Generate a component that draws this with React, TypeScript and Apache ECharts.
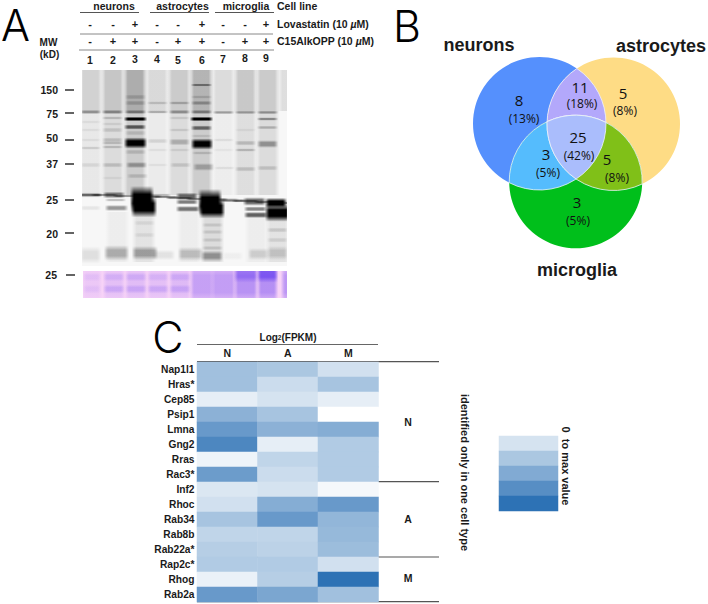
import React, { useEffect, useRef } from "react";
import * as echarts from "echarts";

// ---- heat map data ----
const genes = ["Nap1l1","Hras*","Cep85","Psip1","Lmna","Gng2","Rras","Rac3*","Inf2","Rhoc","Rab34","Rab8b","Rab22a*","Rap2c*","Rhog","Rab2a"];
const cellCols = ["N","A","M"];
const valuesN = [.45,.45,.12,.55,.72,.85,.08,.70,.17,.22,.42,.30,.35,.37,.10,.72];
const valuesA = [.40,.25,.20,.42,.55,.12,.30,.25,.20,.58,.72,.30,.32,.37,.35,.63];
const valuesM = [.22,.42,.12,.00,.58,.37,.37,.37,.05,.72,.52,.50,.47,.22,1.0,.45];
const scaleSteps = [.2,.4,.6,.8,1];

// ---- Venn data ----
const vennCounts = ["8","5","3","11","3","5","25"];
const vennPercents = ["(13%)","(8%)","(5%)","(18%)","(5%)","(8%)","(42%)"];

// ---- gel data ----
const laneNumbers = ["1","2","3","4","5","6","7","8","9"];
const lovastatin = ["-","-","+","-","-","+","-","-","+"];
const c15 = ["-","+","+","-","+","+","-","+","+"];
const mwLabels = ["150","75","50","37","25","20"];
// [lane, yStart, yEnd, alpha]
const smears = [
  [1,70,113,.15],[2,70,113,.2],[3,70,113,.3],
  [4,70,113,.12],[5,70,113,.18],[6,70,113,.27],
  [7,70,113,.11],[8,70,113,.19],[9,70,113,.18],[10,70,111,.1],
  [1,113,195,.06],[2,113,195,.11],[3,113,195,.17],
  [4,113,195,.05],[5,113,195,.11],[6,113,195,.17],
  [7,113,195,.04],[8,113,195,.1],[9,113,195,.11],
  [3.4,212,262,.08],[6.5,212,262,.11],[9.45,212,262,.08],[2.2,212,262,.04],[5.45,212,262,.04],[8.5,212,262,.04],
];
// [lane, y, thickness, width, darkness]
const bands = [
  [1,112,2.5,1,.45],[1,122,2,1,.08],[1,130,2,1,.08],[1,140,2,1,.08],[1,148,2,1,.18],[1,165,3,1,.12],[1,195,3,1.1,.45],[1,208,3,1,.1],[1,255,10,1,.14],
  [2,112,2.5,1,.5],[2,118,2,1,.25],[2,124,2,1,.12],[2,130,3,1,.18],[2,140,3,1,.22],[2,143,2,1,.25],[2,147,2,1,.25],[2,165,3,1,.22],[2,178,2,1,.08],[2.05,195,4,1.05,.7],[2.1,200,2,1,.3],[2.15,208,3.5,1.1,.55],[2.15,253,9,1.2,.4],
  [3,97,3,1,.22],[3,103,3,1,.25],[3,112,2.5,1,.5],[3,119,2.6,1.1,1],[3,127,3,1.05,.85],[3,133,3,1,.18],[3.02,143,6.5,1.1,1],[3,152,3,1,.2],[3.05,165,3.5,1,.45],[3.1,176,3,1,.2],[3.32,199,15,1.15,1],[3.42,207,12,1.25,1],[3.45,223,3,1,.1],[3.45,235,3,1,.1],[3.45,253,8,1.25,.45],
  [4,103,2,1,.22],[4,112,2,1,.3],[4,141,3,1,.15],[4,150,2,1,.08],[4,165,2,1,.08],[4.1,195.5,2.5,1.1,.35],[4.3,255,6,1.1,.12],
  [5,103,2,1,.32],[5,112,2.5,1,.45],[5,118,2,1,.15],[5,130,2,1,.15],[5,142,4,1,.32],[5,150,2,1,.12],[5.05,165,3,1,.18],[5.35,196.5,4.5,1.05,.85],[5.35,202,3,1.05,.7],[5.4,209,3.5,1.15,.75],[5.5,254,8,1.2,.3],
  [6,85,1.8,1,.6],[6,97,2,1,.2],[6,103,2.5,1,.4],[6,112,2.5,1,.5],[6,119,2.6,1.1,1],[6,128,3,1,.75],[6,136,2,1,.15],[6.02,144,6.5,1.05,1],[6.05,153,2,1,.2],[6.1,167,4.5,1,.35],[6.4,202,15,1.15,1],[6.47,209,11,1.25,1],[6.5,225,2.5,1,.16],[6.5,232,2.5,1,.16],[6.5,240,2.5,1,.16],[6.5,248,2.5,1,.18],[6.5,256,6,1.05,.5],
  [7,112.5,2,1,.42],[7,140,2,1,.1],[7,150,2,1,.06],[7.05,168,2,1,.1],[7.2,200,2.5,1.1,.3],[7.4,256,5,1,.05],
  [8,112.5,2,1,.38],[8,130,2,1,.08],[8,143,3,1,.25],[8,150,2,1,.28],[8,169,3,1,.22],[8.4,201.5,5,1.1,.85],[8.45,209,3,1.1,.65],[8.48,215,3.5,1.15,.85],[8.6,254,7,1,.2],
  [9,112.5,2,1,.45],[9,119,2,1,.55],[9,127.5,2,1,.32],[9,144,4.5,1,.5],[9,168,3,1,.2],[9.4,203,6,1.05,1],[9.45,213,10,1.2,1],[9.45,230,3,1,.18],[9.45,240,3,1,.14],[9.45,253,8,1,.22],
];
const slantLine = [[.9,195],[1.6,195],[2.6,196],[3.6,196.5],[4.4,197],[5,198],[5.9,199],[6.6,199.5],[7.4,200.5],[8,201],[9,202],[9.7,203]];
// [lane, y, thickness, width, darkness]
const ponceau = [
  [1,284,26,.9,.08],[2,284,26,1,.14],[3,284,26,1,.16],[4,284,26,1,.14],[5,284,26,1,.18],
  [1,277,5,.8,.08],[1,289,5,.8,.08],[2,277,5,1,.14],[2,289,5,1,.2],[3,277,5,1,.16],[3,289,5,1,.2],
  [4,277,5,1,.12],[4,289,5,1,.2],[5,277,5,1,.16],[5,289,5,1,.2],[6,284,27,1.1,.36],[7,284,27,1.15,.38],
  [8,284,27,1.1,.46],[8,274,10,1.1,.5],[9,284,27,.95,.48],[9,274,10,.95,.8],[10,284,27,.8,.42],
];

const FONT = "'Liberation Sans', Arial, sans-serif";
const VFONT = "'Open Sans', 'Noto Sans', sans-serif";
const PANEL = "Inter, Lato, sans-serif";

// Venn geometry
const R = 66.5;
const cN: [number, number] = [539.5, 123.5];
const cA: [number, number] = [613.5, 124];
const cM: [number, number] = [575.7, 181.7];
function meet(p: number[], q: number[]) {
  const dx = q[0] - p[0], dy = q[1] - p[1], d = Math.hypot(dx, dy);
  const h = Math.sqrt(R * R - d * d / 4);
  const mx = (p[0] + q[0]) / 2, my = (p[1] + q[1]) / 2;
  return [[mx - dy / d * h, my + dx / d * h], [mx + dy / d * h, my - dx / d * h]];
}
const inside = (p: number[], c: number[]) => Math.hypot(p[0] - c[0], p[1] - c[1]) < R;
const arc = (p: number[]) => `A ${R} ${R} 0 0 1 ${p[0].toFixed(2)} ${p[1].toFixed(2)}`;
const lens = (p: number[], q: number[]) => {
  const [a, b] = meet(p, q);
  return `M ${a[0].toFixed(2)} ${a[1].toFixed(2)} ${arc(b)} ${arc(a)} Z`;
};
const pick = (p: number[], q: number[], r: number[]) => meet(p, q).find((v) => inside(v, r)) as number[];
const tAM = pick(cA, cM, cN), tNM = pick(cN, cM, cA), tNA = pick(cN, cA, cM);
const tripleD = `M ${tAM[0].toFixed(2)} ${tAM[1].toFixed(2)} ${arc(tNM)} ${arc(tNA)} ${arc(tAM)} Z`;
echarts.graphic.registerShape("lensNA", echarts.graphic.extendPath(lens(cN, cA), {}));
echarts.graphic.registerShape("lensNM", echarts.graphic.extendPath(lens(cN, cM), {}));
echarts.graphic.registerShape("lensAM", echarts.graphic.extendPath(lens(cA, cM), {}));
echarts.graphic.registerShape("triple", echarts.graphic.extendPath(tripleD, {}));

const txt = (text: string, x: number, y: number, size: number, extra: any = {}, style: any = {}) => ({
  type: "text", x, y, silent: true, ...extra,
  style: { text, fill: "#1a1a1a", font: `bold ${size}px ${FONT}`, textAlign: "center", textVerticalAlign: "middle", ...style },
});
const ln = (x1: number, x2: number, y: number, stroke = "#555", lineWidth = 1) => ({
  type: "line", silent: true, shape: { x1, y1: y, x2, y2: y }, style: { stroke, lineWidth },
});

const gelLabelX = [90, 113, 135, 157, 178, 202, 223, 245, 266];
const gelRowY = [59.5, 60, 59, 59, 60, 60, 59, 58, 58];
const mwY = [90, 114, 138, 164, 200, 234];
const mwTickY = [90, 113, 140, 164, 200, 233];

// horizontal fall-off of a band at each edge of its lane, one pixel per step
const taper = [.2, .45, .7, .9];

const softBand = (alpha: number, rgb: string) =>
  new echarts.graphic.LinearGradient(0, 0, 0, 1, [
    { offset: 0, color: `rgba(${rgb},0)` },
    { offset: 0.32, color: `rgba(${rgb},${alpha})` },
    { offset: 0.68, color: `rgba(${rgb},${alpha})` },
    { offset: 1, color: `rgba(${rgb},0)` },
  ]);

const bandRender = (rgb: string, k = 0.95, strength = 0.7) => (_: any, api: any) => {
  const x = api.value(0), y = api.value(1), h = api.value(2), w = api.value(3);
  const raw = api.value(4);
  const a = raw >= 0.95 ? raw : raw * strength;
  const c = api.coord([x, y]);
  const unitX = api.size([1, 0])[0];
  const unitY = api.size([0, 1])[1];
  const bw = Math.round(unitX * k * w), bh = unitY * h * 1.75;
  const left = Math.round(c[0] - bw / 2), top = c[1] - bh / 2;
  const n = taper.length;
  const part = (px: number, width: number, t: number) => ({
    type: "rect", shape: { x: px, y: top, width, height: bh }, style: { fill: softBand(a * t, rgb) },
  });
  return {
    type: "group",
    children: [
      ...taper.map((t, i) => part(left + i, 1, t)),
      part(left + n, bw - 2 * n, 1),
      ...taper.map((t, i) => part(left + bw - 1 - i, 1, t)),
    ],
  };
};
const smearRender = (_: any, api: any) => {
  const x = api.value(0), y0 = api.value(1), y1 = api.value(2), a = api.value(3);
  const p = api.coord([x, y0]), q = api.coord([x, y1]);
  const bw = api.size([1, 0])[0] * 1.1;
  return {
    type: "rect",
    shape: { x: p[0] - bw / 2, y: p[1], width: bw, height: q[1] - p[1] },
    style: {
      fill: new echarts.graphic.LinearGradient(0, 0, 1, 0, [
        { offset: 0, color: `rgba(0,0,0,0)` },
        { offset: 0.2, color: `rgba(0,0,0,${a})` },
        { offset: 0.8, color: `rgba(0,0,0,${a})` },
        { offset: 1, color: `rgba(0,0,0,0)` },
      ]),
    },
  };
};

function buildOption(): any {
  const cells: any[] = [];
  [valuesN, valuesA, valuesM].forEach((col, c) => col.forEach((v, r) => cells.push([c, r, v])));
  const micro = {
    a: { font: `bold 10.5px ${FONT}`, fill: "#1a1a1a" },
    i: { font: `italic bold 10.5px ${FONT}`, fill: "#1a1a1a" },
  };
  const panel = { font: `300 43px ${PANEL}`, fill: "#000" };
  const graphic: any[] = [
    // panel letters
    txt("A", 15.5, 25, 43, {}, panel),
    txt("B", 407, 26, 43, {}, panel),
    txt("C", 168, 337, 43, {}, panel),
    // gel header
    txt("neurons", 114, 5.5, 10.5), txt("astrocytes", 182.5, 5.5, 10.5), txt("microglia", 246, 5.5, 10.5),
    txt("Cell line", 277, 5.5, 10.5, {}, { textAlign: "left" }),
    txt("{a|Lovastatin (10 }{i|µ}{a|M)}", 277, 24, 10.5, {}, { textAlign: "left", rich: micro }),
    txt("{a|C15AlkOPP (10 }{i|µ}{a|M)}", 277, 41, 10.5, {}, { textAlign: "left", rich: micro }),
    ln(80, 139, 12.5), ln(150, 209, 12.5), ln(215, 274, 12.5),
    ln(80, 273, 34, "#888"), ln(79, 274, 50, "#888"),
    txt("MW", 48.5, 42, 10), txt("(kD)", 49.5, 54.5, 10),
  ];
  gelLabelX.forEach((x, i) => {
    graphic.push(txt(lovastatin[i], x, 24, 11));
    graphic.push(txt(c15[i], x, 41, 11));
    graphic.push(txt(laneNumbers[i], x, gelRowY[i], 10.5));
  });
  mwLabels.forEach((m, i) => {
    graphic.push(txt(m, 58, mwY[i], 10.5, {}, { textAlign: "right" }));
    graphic.push(ln(65, 74, mwTickY[i], "#222", 1.4));
  });
  graphic.push(txt("25", 57, 275, 10.5, {}, { textAlign: "right" }));
  graphic.push(ln(66, 75, 275, "#222", 1.4));

  // Venn
  const white = { stroke: "#eef3ff", lineWidth: 0.8 };
  graphic.push(
    { type: "circle", silent: true, shape: { cx: cN[0], cy: cN[1], r: R }, style: { fill: "#5590fd" } },
    { type: "circle", silent: true, shape: { cx: cA[0], cy: cA[1], r: R }, style: { fill: "#fedc85" } },
    { type: "circle", silent: true, shape: { cx: cM[0], cy: cM[1], r: R }, style: { fill: "#00bf1b" } },
    { type: "lensNA", silent: true, style: { fill: "#b3a8fb", ...white } },
    { type: "lensNM", silent: true, style: { fill: "#55bcfd", ...white } },
    { type: "lensAM", silent: true, style: { fill: "#80c018", ...white } },
    { type: "triple", silent: true, style: { fill: "#aabdfc", ...white } },
  );
  const countPos = [[519, 100], [623, 92.5], [577, 201.5], [580, 86.5], [546, 154], [607, 159], [578, 136.5]];
  const pctPos = [[524, 118.5], [625, 110], [578, 220], [582, 103.5], [548, 172.5], [617, 177.5], [579, 155]];
  vennCounts.forEach((c, i) => {
    graphic.push(txt(c, countPos[i][0], countPos[i][1], 15, {}, { font: `400 15px ${VFONT}`, fill: "#111" }));
    graphic.push(txt(vennPercents[i], pctPos[i][0], pctPos[i][1], 12, {}, { font: `400 12px ${VFONT}`, fill: "#111" }));
  });
  graphic.push(txt("neurons", 479, 45, 18), txt("astrocytes", 661, 46, 18), txt("microglia", 577, 270, 18));

  // Heat map annotations
  graphic.push(
    txt("{a|Log}{s|2}{a|(FPKM)}", 288, 337, 10, {}, {
      rich: { a: { font: `bold 10px ${FONT}`, fill: "#1a1a1a" }, s: { font: `bold 6.5px ${FONT}`, fill: "#1a1a1a" } },
    }),
    ln(197, 378, 344.5, "#666"), ln(197, 439, 361.7, "#555", 1.2), ln(197, 439, 481.7, "#555", 1.2),
    ln(197, 439, 557, "#555", 1.2), ln(197, 439, 601.7, "#555", 1.2),
    txt("N", 408, 421.7, 10.5), txt("A", 408, 519, 10.5), txt("M", 408, 578, 10.5),
    txt("identified only in one cell type", 465, 472.5, 11, { rotation: -Math.PI / 2 }),
    txt("0  to max value", 566, 466, 11, { rotation: -Math.PI / 2 }),
  );

  const gelSeries = (name: string, data: any[], renderItem: any, gi = 0) => ({
    type: "custom", name, coordinateSystem: "cartesian2d", xAxisIndex: gi, yAxisIndex: gi,
    silent: true, clip: true, data, renderItem, encode: { x: 0, y: 1 },
  });

  return {
    animation: false,
    backgroundColor: "#fff",
    grid: [
      { left: 82, top: 70, width: 205, height: 196, show: true, backgroundColor: "#f7f7f7", borderWidth: 0 },
      { left: 83, top: 271, width: 204, height: 27, show: true, backgroundColor: "#f7d3f7", borderWidth: 0 },
      { left: 197, top: 362, width: 181.5, height: 240 },
      { left: 499, top: 436, width: 59, height: 75 },
    ],
    xAxis: [
      { gridIndex: 0, type: "value", min: 0.6, max: 9.88, show: false },
      { gridIndex: 1, type: "value", min: 0.6, max: 9.88, show: false },
      { gridIndex: 2, type: "category", data: cellCols, position: "top", axisLine: { show: false }, axisTick: { show: false },
        axisLabel: { margin: 4, fontFamily: FONT, fontWeight: "bold", fontSize: 10.5, color: "#1a1a1a" } },
      { gridIndex: 3, type: "category", data: ["scale"], show: false },
    ],
    yAxis: [
      { gridIndex: 0, type: "value", min: 70, max: 266, inverse: true, show: false },
      { gridIndex: 1, type: "value", min: 271, max: 298, inverse: true, show: false },
      { gridIndex: 2, type: "category", data: genes, inverse: true, axisLine: { show: false }, axisTick: { show: false },
        axisLabel: { margin: 2.5, fontFamily: FONT, fontWeight: "bold", fontSize: 10.2, color: "#1a1a1a" } },
      { gridIndex: 3, type: "category", data: scaleSteps.map(String), inverse: true, show: false },
    ],
    visualMap: { show: false, type: "continuous", min: 0, max: 1, seriesIndex: [4, 5], inRange: { color: ["#ffffff", "#2d72b5"] } },
    series: [
      gelSeries("smear", smears, smearRender),
      gelSeries("slant", slantLine.map((p) => [p[0], p[1], 1.8, 1.3, .55]), bandRender("0,0,0")),
      gelSeries("bands", bands, bandRender("0,0,0")),
      gelSeries("ponceau", ponceau, bandRender("110,70,240", 1, 1), 1),
      { type: "heatmap", name: "FPKM", xAxisIndex: 2, yAxisIndex: 2, data: cells, silent: true, itemStyle: { borderWidth: 0 }, progressive: 0 },
      { type: "heatmap", name: "scale", xAxisIndex: 3, yAxisIndex: 3, data: scaleSteps.map((v, i) => [0, i, v]), silent: true, itemStyle: { borderWidth: 0 }, progressive: 0 },
    ],
    graphic,
  };
}

export default function App() {
  const ref = useRef<HTMLDivElement>(null);
  useEffect(() => {
    const chart = echarts.init(ref.current!, undefined, { renderer: "svg" });
    chart.setOption(buildOption());
    return () => chart.dispose();
  }, []);
  return <div ref={ref} style={{ width: 708, height: 604, position: "absolute", left: 0, top: 0 }} />;
}
